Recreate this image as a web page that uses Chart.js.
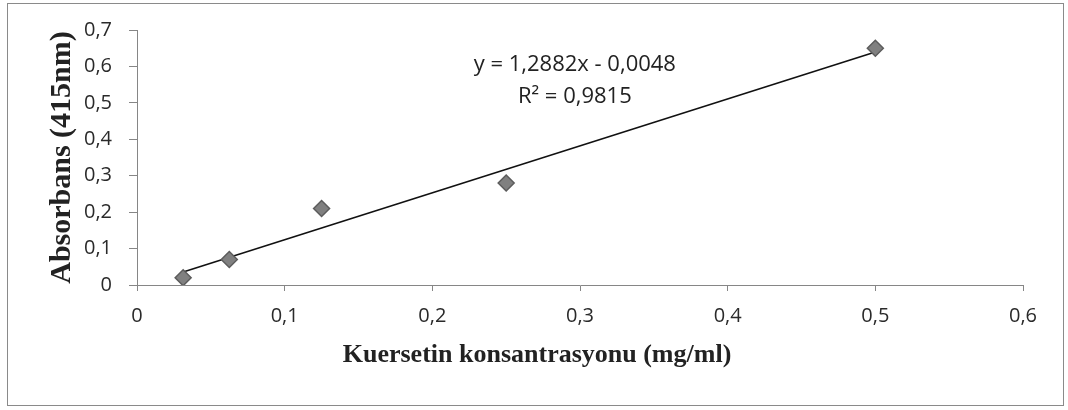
<!DOCTYPE html>
<html>
<head>
<meta charset="utf-8">
<script src="https://cdn.jsdelivr.net/npm/chart.js@4"></script>
<style>
  html, body { margin: 0; padding: 0; background: #fff; }
  #wrap { width: 1068px; height: 410px; }
</style>
</head>
<body>
<div id="wrap"><canvas id="kalibrasyon" width="1068" height="410"></canvas></div>
<script>
// Kuersetin kalibrasyon eğrisi

// Ölçülen noktalar
const konsantrasyon = [0.03125, 0.0625, 0.125, 0.25, 0.5];
const absorbans = [0.02, 0.07, 0.21, 0.28, 0.65];

// Doğrusal trend çizgisinin uçları (y = 1,2882x - 0,0048)
const trendX = [0.03125, 0.5];
const trendY = [0.0355, 0.6393];

// Eksen etiketleri
const xTickLabels = ["0", "0,1", "0,2", "0,3", "0,4", "0,5", "0,6"];
const yTickLabels = ["0", "0,1", "0,2", "0,3", "0,4", "0,5", "0,6", "0,7"];

const denklem = ["y = 1,2882x - 0,0048", "R² = 0,9815"];
const xBaslik = "Kuersetin konsantrasyonu (mg/ml)";

const tickFont = { family: "'Open Sans', sans-serif", size: 20 };
const axisColor = "#868686";

// Dış çerçeve ve x ekseni başlığı (grafiğin tamamına göre ortalı)
const cerceve = {
  id: "cerceve",
  beforeDraw(chart) {
    const ctx = chart.ctx;
    ctx.save();
    ctx.fillStyle = "#fff";
    ctx.fillRect(0, 0, chart.width, chart.height);
    ctx.strokeStyle = "#8a8a8a";
    ctx.lineWidth = 1;
    ctx.strokeRect(7.5, 3.5, 1056, 402);
    ctx.font = "bold 26px 'Liberation Serif', 'Times New Roman', serif";
    ctx.fillStyle = "#222";
    ctx.textAlign = "center";
    ctx.textBaseline = "middle";
    ctx.fillText(xBaslik, 537, 355);
    ctx.restore();
  },
};

// Denklem ve R² yazısı
const denklemYazisi = {
  id: "denklemYazisi",
  afterDatasetsDraw(chart) {
    const ctx = chart.ctx;
    const x = chart.scales.x.getPixelForValue(0.2965);
    const y = chart.scales.y.getPixelForValue(0.604);
    ctx.save();
    ctx.font = "22px 'Open Sans', sans-serif";
    ctx.fillStyle = "#222";
    ctx.textAlign = "center";
    ctx.textBaseline = "middle";
    ctx.fillText(denklem[0], x, y);
    ctx.fillText(denklem[1], x, y + 32);
    ctx.restore();
  },
};

const points = konsantrasyon.map((k, i) => ({ x: k, y: absorbans[i] }));
const trend = trendX.map((k, i) => ({ x: k, y: trendY[i] }));

new Chart(document.getElementById("kalibrasyon"), {
  type: "scatter",
  data: {
    datasets: [
      {
        label: "Absorbans",
        data: points,
        pointStyle: "rectRot",
        pointRadius: 8,
        pointHoverRadius: 8,
        backgroundColor: "#808080",
        borderColor: "#5c5c5c",
        borderWidth: 1.5,
        order: 1,
      },
      {
        label: "Doğrusal",
        data: trend,
        showLine: true,
        pointRadius: 0,
        borderColor: "#111",
        borderWidth: 1.6,
        order: 2,
      },
    ],
  },
  plugins: [cerceve, denklemYazisi],
  options: {
    responsive: false,
    animation: false,
    layout: { padding: { top: 30, right: 45, bottom: 0, left: 0 } },
    plugins: { legend: { display: false }, tooltip: { enabled: false } },
    scales: {
      x: {
        type: "linear",
        min: 0,
        max: 0.6,
        afterFit: (s) => { s.height = 125; },
        afterBuildTicks: (s) => { s.ticks = xTickLabels.map((_, i) => ({ value: i / 10 })); },
        ticks: {
          font: tickFont,
          color: "#2a2a2a",
          padding: 13,
          callback: (v, i) => xTickLabels[i],
        },
        grid: { drawOnChartArea: false, drawTicks: true, tickLength: 6, color: axisColor },
        border: { display: true, color: axisColor, width: 1 },
      },
      y: {
        type: "linear",
        min: 0,
        max: 0.7,
        afterFit: (s) => { s.width = 137; },
        afterBuildTicks: (s) => { s.ticks = yTickLabels.map((_, i) => ({ value: i / 10 })); },
        ticks: {
          font: tickFont,
          color: "#2a2a2a",
          padding: 17,
          callback: (v, i) => yTickLabels[i],
        },
        grid: { drawOnChartArea: false, drawTicks: true, tickLength: 8, color: axisColor },
        border: { display: true, color: axisColor, width: 1 },
        title: {
          display: true,
          text: "Absorbans (415nm)",
          font: { family: "'Liberation Serif', 'Times New Roman', serif", size: 30, weight: "bold" },
          color: "#222",
          padding: { top: 44, bottom: 0 },
        },
      },
    },
  },
});
</script>
</body>
</html>
